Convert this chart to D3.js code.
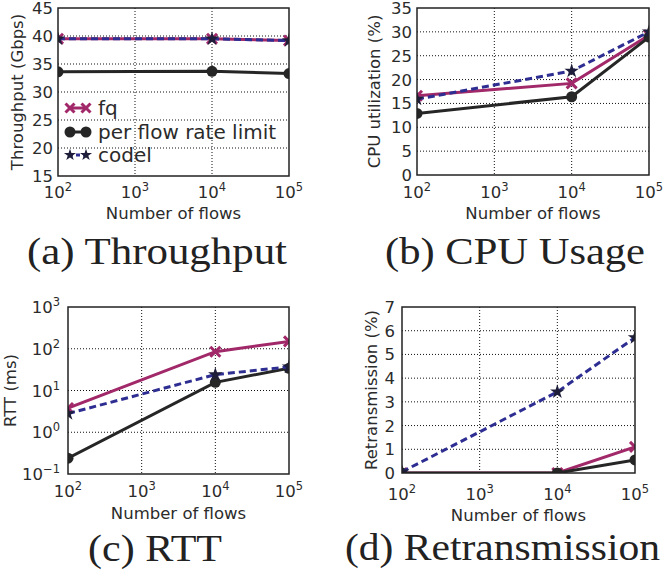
<!DOCTYPE html>
<html><head><meta charset="utf-8">
<script src="https://cdn.jsdelivr.net/npm/d3@7/dist/d3.min.js"></script>
<style>
html,body{margin:0;padding:0;background:#fff;}
svg{display:block;}
</style></head>
<body>
<svg id="chart" width="664" height="572"></svg>
<script>
// ---------- data ----------
const flows = [1e2, 1e4, 1e5];
const seriesNames = ["fq", "per flow rate limit", "codel"];
const xTickValues = [1e2, 1e3, 1e4, 1e5];

const throughputFq = [39.5, 39.5, 39.2];
const throughputPerFlow = [33.6, 33.7, 33.3];
const throughputCodel = [39.5, 39.5, 39.2];
const throughputTicks = [15, 20, 25, 30, 35, 40, 45];

const cpuFq = [16.6, 19.2, 29.3];
const cpuPerFlow = [12.9, 16.4, 28.9];
const cpuCodel = [15.9, 21.8, 30.0];
const cpuTicks = [0, 5, 10, 15, 20, 25, 30, 35];

const rttFq = [3.8, 85, 150];
const rttPerFlow = [0.24, 15.7, 34];
const rttCodel = [2.8, 24, 37];
const rttTicks = [0.1, 1, 10, 100, 1000];

const retransFq = [0, 0, 1.1];
const retransPerFlow = [0, 0, 0.55];
const retransCodel = [0.05, 3.42, 5.71];
const retransTicks = [0, 1, 2, 3, 4, 5, 6, 7];

const captions = ["(a) Throughput", "(b) CPU Usage", "(c) RTT", "(d) Retransmission"];
const yLabels = ["Throughput (Gbps)", "CPU utilization (%)", "RTT (ms)", "Retransmission (%)"];
const xLabel = "Number of flows";

// ---------- styles ----------
const colors = {fq: "#a12869", pf: "#262626", codel: "#2e2e92"};
const textColor = "#2b2b2b";
const sansFont = "'DejaVu Sans', sans-serif";
const serifFont = "'Liberation Serif', 'Times New Roman', serif";

const svg = d3.select("#chart");

const panels = [
  {box: {l: 58, r: 289, t: 8, b: 176}, yType: "lin", yDomain: [15, 45], yTicks: throughputTicks,
   data: [throughputFq, throughputPerFlow, throughputCodel], yLabel: yLabels[0],
   yLabelX: 23, yTickOff: 5, xTickBase: 198, xLabelBase: 219, legend: true,
   caption: captions[0], capX: 27, capW: 260, capBase: 264},
  {box: {l: 417, r: 649, t: 8, b: 175}, yType: "lin", yDomain: [0, 35], yTicks: cpuTicks,
   data: [cpuFq, cpuPerFlow, cpuCodel], yLabel: yLabels[1],
   yLabelX: 380, yTickOff: 5, xTickBase: 198, xLabelBase: 219, legend: false,
   caption: captions[1], capX: 385, capW: 260, capBase: 264},
  {box: {l: 68, r: 289, t: 307, b: 474}, yType: "log", yDomain: [0.1, 1000], yTicks: rttTicks,
   data: [rttFq, rttPerFlow, rttCodel], yLabel: yLabels[2],
   yLabelX: 16, yTickOff: 8, xTickBase: 497, xLabelBase: 519, legend: false,
   caption: captions[2], capX: 88, capW: 134, capBase: 561},
  {box: {l: 402, r: 635, t: 307, b: 473}, yType: "lin", yDomain: [0, 7], yTicks: retransTicks,
   data: [retransFq, retransPerFlow, retransCodel], yLabel: yLabels[3],
   yLabelX: 377, yTickOff: 7, xTickBase: 500, xLabelBase: 521, legend: false,
   caption: captions[3], capX: 345, capW: 315, capBase: 560}
];

const expOf = v => Math.round(Math.log10(v));
const supStr = e => (e < 0 ? "\u2212" + Math.abs(e) : String(e));

function drawMarker(g, kind, cx, cy, small) {
  if (kind === 0) {
    const s = small ? 4.5 : 5;
    g.append("path")
      .attr("d", `M${cx - s},${cy - s}L${cx + s},${cy + s}M${cx - s},${cy + s}L${cx + s},${cy - s}`)
      .attr("stroke", colors.fq).attr("stroke-width", 3).attr("fill", "none");
  } else if (kind === 1) {
    g.append("circle").attr("cx", cx).attr("cy", cy).attr("r", 5.5).attr("fill", colors.pf);
  } else {
    g.append("path").attr("d", d3.symbol().type(d3.symbolStar).size(small ? 45 : 65)())
      .attr("transform", `translate(${cx},${cy})`).attr("fill", "#1e1e3a");
  }
}

panels.forEach((p, pi) => {
  const b = p.box;
  const x = d3.scaleLog().domain([1e2, 1e5]).range([b.l, b.r]);
  const y = p.yType === "log"
    ? d3.scaleLog().domain(p.yDomain).range([b.b, b.t])
    : d3.scaleLinear().domain(p.yDomain).range([b.b, b.t]);
  const g = svg.append("g");

  // grid
  const grid = g.append("g").attr("stroke", "#111").attr("stroke-width", 1).attr("stroke-dasharray", "1,2");
  xTickValues.slice(1, -1).forEach(v => {
    grid.append("line").attr("x1", x(v)).attr("x2", x(v)).attr("y1", b.t).attr("y2", b.b);
  });
  p.yTicks.slice(1, -1).forEach(v => {
    grid.append("line").attr("x1", b.l).attr("x2", b.r).attr("y1", y(v)).attr("y2", y(v));
  });

  // clip
  const clipId = "clip" + pi;
  svg.append("clipPath").attr("id", clipId).append("rect")
    .attr("x", b.l).attr("y", b.t).attr("width", b.r - b.l).attr("height", b.b - b.t);
  const plot = g.append("g").attr("clip-path", `url(#${clipId})`);

  const line = d3.line().x((d, i) => x(flows[i])).y(d => y(d));
  const lineStyles = [
    {c: colors.fq, dash: null},
    {c: colors.pf, dash: null},
    {c: colors.codel, dash: "7,4"}
  ];
  p.data.forEach((vals, si) => {
    plot.append("path").attr("d", line(vals)).attr("fill", "none")
      .attr("stroke", lineStyles[si].c).attr("stroke-width", 3)
      .attr("stroke-dasharray", lineStyles[si].dash);
    vals.forEach((v, i) => drawMarker(plot, si, x(flows[i]), y(v), false));
  });

  // frame
  g.append("rect").attr("x", b.l).attr("y", b.t).attr("width", b.r - b.l).attr("height", b.b - b.t)
    .attr("fill", "none").attr("stroke", "#222").attr("stroke-width", 1.5);

  // x tick labels
  xTickValues.forEach(v => {
    const t = g.append("text").attr("x", x(v)).attr("y", p.xTickBase)
      .attr("text-anchor", "middle").attr("font-family", sansFont).attr("font-size", 16.5)
      .attr("fill", textColor);
    t.append("tspan").text("10");
    t.append("tspan").attr("dy", -7).attr("font-size", 11.5).text(supStr(expOf(v)));
  });

  // y tick labels
  p.yTicks.forEach(v => {
    const t = g.append("text").attr("x", b.l - p.yTickOff).attr("y", y(v) + 6)
      .attr("text-anchor", "end").attr("font-family", sansFont).attr("font-size", 16.5)
      .attr("fill", textColor);
    if (p.yType === "log") {
      t.append("tspan").text("10");
      t.append("tspan").attr("dy", -7).attr("font-size", 11.5).text(supStr(expOf(v)));
    } else {
      t.text(v);
    }
  });

  // axis labels
  g.append("text").attr("x", (b.l + b.r) / 2).attr("y", p.xLabelBase)
    .attr("text-anchor", "middle").attr("font-family", sansFont).attr("font-size", 16.5)
    .attr("fill", textColor).text(xLabel);
  g.append("text")
    .attr("transform", `translate(${p.yLabelX},${(b.t + b.b) / 2}) rotate(-90)`)
    .attr("text-anchor", "middle").attr("font-family", sansFont).attr("font-size", 16.5)
    .attr("fill", textColor).text(p.yLabel);

  // caption
  g.append("text").attr("x", p.capX).attr("y", p.capBase)
    .attr("font-family", serifFont).attr("font-size", 37).attr("fill", "#222")
    .attr("textLength", p.capW).attr("lengthAdjust", "spacingAndGlyphs").text(p.caption);

  // legend
  if (p.legend) {
    const lg = g.append("g");
    const rowsY = [108, 132, 155];
    seriesNames.forEach((name, si) => {
      const cy = rowsY[si];
      lg.append("line").attr("x1", 69).attr("x2", 87).attr("y1", cy).attr("y2", cy)
        .attr("stroke", lineStyles[si].c).attr("stroke-width", 3)
        .attr("stroke-dasharray", si === 2 ? "4,3" : null);
      drawMarker(lg, si, 70, cy, true);
      drawMarker(lg, si, 86, cy, true);
      lg.append("text").attr("x", 98).attr("y", cy + 7)
        .attr("font-family", sansFont).attr("font-size", 20).attr("fill", textColor).text(name);
    });
  }
});
</script>
</body></html>
